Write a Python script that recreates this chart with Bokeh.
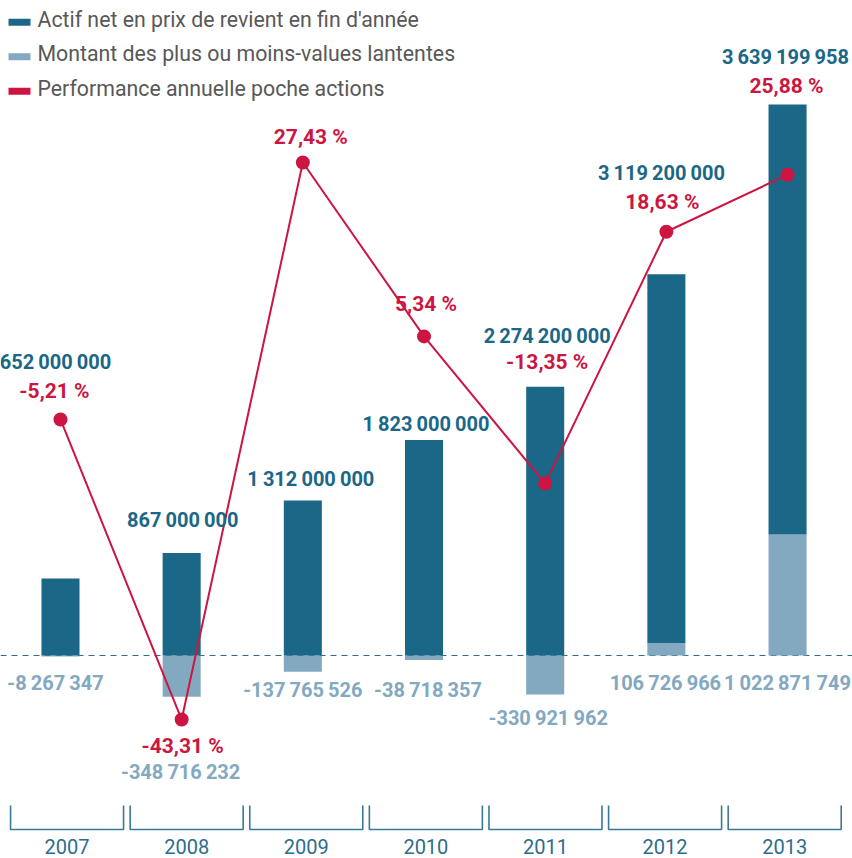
from bokeh.plotting import figure
from bokeh.models import Range1d, ColumnDataSource, Span
from bokeh.core.properties import value
from bokeh.embed import file_html
from bokeh.resources import INLINE

# ---------------- data ----------------
years = ["2007", "2008", "2009", "2010", "2011", "2012", "2013"]
actif_net = [652000000, 867000000, 1312000000, 1823000000, 2274200000, 3119200000, 3639199958]
latentes = [-8267347, -348716232, -137765526, -38718357, -330921962, 106726966, 1022871749]
performance = [-5.21, -43.31, 27.43, 5.34, -13.35, 18.63, 25.88]
legend_labels = ["Actif net en prix de revient en fin d'année",
                 "Montant des plus ou moins-values lantentes",
                 "Performance annuelle poche actions"]

# ---------------- label placement (pixel offsets) ----------------
net_dx = [-5, 1, 8, 2, 2, -5, -2]
net_dy = [-216, -33, -21, -16, -51, -101, -47]
pct_dx = [-6, 1, 8, 2, 2, -4, -1]
pct_dy = [-28, 26, -25, -32, -122, -30, -89]
lat_dx = [-5, -1, 0, 4, 3, -1, 0]
lat_dy = [27, 75, 18, 30, 23, 28, 28]

DARK = "#1b6787"
LIGHT = "#83a9c1"
RED = "#cc1541"
GREY = "#585858"
AXIS = "#3b7998"
FONT = value("Roboto")

W, H = 852, 858
SEP = "\u2009"


def fr_int(v):
    return f"{v:,}".replace(",", SEP)


def fr_pct(v):
    return f"{v:.2f} %".replace(".", ",")


idx = list(range(len(years)))
dark_bottom = [max(0, l) for l in latentes]
dark_top = [b + n for b, n in zip(dark_bottom, actif_net)]
lat_anchor = [min(0, l) for l in latentes]

src = ColumnDataSource(dict(
    x=idx, year=years, net=actif_net, lat=latentes, perf=performance,
    dark_bottom=dark_bottom, dark_top=dark_top, lat_anchor=lat_anchor,
    net_txt=[fr_int(v) for v in actif_net],
    lat_txt=[fr_int(v) for v in latentes],
    pct_txt=[fr_pct(v) for v in performance],
    net_dx=net_dx, net_dy=net_dy, pct_dx=pct_dx, pct_dy=pct_dy,
    lat_dx=lat_dx, lat_dy=lat_dy,
))

p = figure(width=W, height=H, output_backend="svg", toolbar_location=None,
           x_range=Range1d(-0.495, 6.536),
           y_range=Range1d(-1.7176e9, 5.542e9),
           x_axis_location=None, y_axis_location=None,
           min_border=0, outline_line_color=None,
           styles={"position": "absolute", "left": "0px", "top": "0px"})
p.grid.visible = False
p.background_fill_color = "white"
p.extra_y_ranges = {"pct": Range1d(-60.96, 48.0), "px": Range1d(H, 0)}
p.extra_x_ranges = {"px": Range1d(0, W), "axis": Range1d(-0.5565, 6.567)}

# zero line
p.add_layout(Span(location=0, dimension="width", line_color="#2f6a86",
                  line_width=1, line_dash="6 5", level="underlay"))

BW = 0.314
# latent values bar (from zero)
p.vbar(x="x", width=BW, bottom=0, top="lat", source=src,
       fill_color=LIGHT, line_color=None)
# net asset bar stacked on positive latent values
p.vbar(x="x", width=BW, bottom="dark_bottom", top="dark_top", source=src,
       fill_color=DARK, line_color=None)

# performance line
p.line(x="x", y="perf", source=src, y_range_name="pct",
       line_color=RED, line_width=2)
p.scatter(x="x", y="perf", source=src, y_range_name="pct",
          size=14, fill_color=RED, line_color=None)

# labels
p.text(x="x", y="dark_top", text="net_txt", source=src,
       x_offset="net_dx", y_offset="net_dy",
       text_font=FONT, text_font_style="bold", text_font_size="20px",
       text_color=DARK, text_align="center", text_baseline="middle")
p.text(x="x", y="perf", text="pct_txt", source=src, y_range_name="pct",
       x_offset="pct_dx", y_offset="pct_dy",
       text_font=FONT, text_font_style="bold", text_font_size="21px",
       text_color=RED, text_align="center", text_baseline="middle")
p.text(x="x", y="lat_anchor", text="lat_txt", source=src,
       x_offset="lat_dx", y_offset="lat_dy",
       text_font=FONT, text_font_style="bold", text_font_size="20px",
       text_color=LIGHT, text_align="center", text_baseline="middle")

# bottom brackets + year labels
half = 0.4724
bx = [[i - half, i - half, i + half, i + half] for i in idx]
by = [[805, 829, 829, 805] for _ in idx]
p.multi_line(xs=bx, ys=by, x_range_name="axis", y_range_name="px",
             line_color=AXIS, line_width=1.6)
p.text(x=idx, y=[845.5] * len(idx), text=years, x_range_name="axis", y_range_name="px",
       text_font=FONT, text_font_size="20px", text_color="#2d6d8d",
       text_align="center", text_baseline="middle")

# legend (manual)
leg_y = [21.7, 56.3, 90.8]
p.rect(x=[19] * 3, y=leg_y, width=22, height=7, x_range_name="px", y_range_name="px",
       fill_color=[DARK, LIGHT, RED], line_color=None)
p.text(x=[37] * 3, y=[v - 3 for v in leg_y], text=legend_labels,
       x_range_name="px", y_range_name="px",
       text_font=FONT, text_font_size="21.3px", text_color=GREY,
       text_align="left", text_baseline="middle")

open("out.html", "w").write(file_html(p, INLINE))
